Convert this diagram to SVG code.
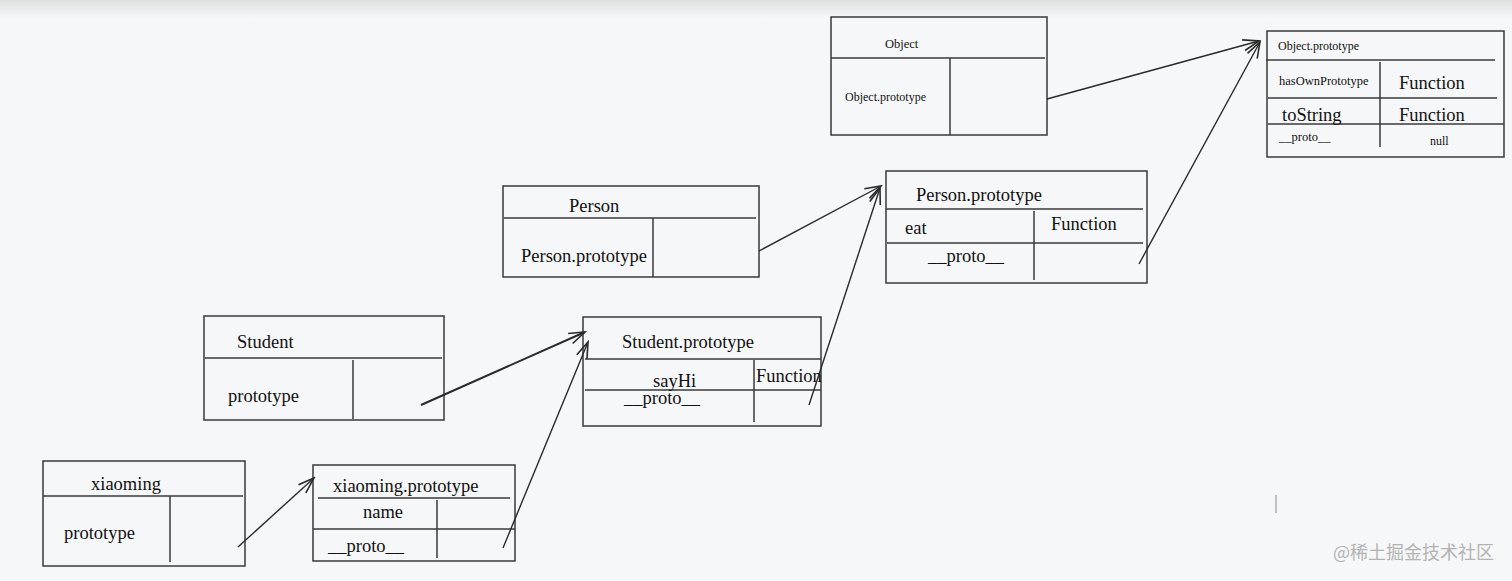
<svg xmlns="http://www.w3.org/2000/svg" width="1512" height="581" viewBox="0 0 1512 581">
<defs>
<linearGradient id="topshade" x1="0" y1="0" x2="0" y2="1">
<stop offset="0" stop-color="#dfe0e0"/>
<stop offset="1" stop-color="#f6f7f8"/>
</linearGradient>
<marker id="arrow" viewBox="-18 -8 20 16" refX="0" refY="0" markerWidth="20" markerHeight="16" markerUnits="userSpaceOnUse" orient="auto">
<path d="M-16,-5.5 L0,0 L-16,5.5" fill="none" stroke="#2a2a2a" stroke-width="1.6"/>
</marker>
</defs>
<style>
.box{fill:none;stroke:#3a3a3a;stroke-width:1.5}
.ln{stroke:#3a3a3a;stroke-width:1.5;fill:none}
.t{font-family:"Liberation Serif","Times New Roman",serif;fill:#111;font-size:18.5px}
.s{font-family:"Liberation Serif","Times New Roman",serif;fill:#111;font-size:12.5px}
.conn line{stroke:#2a2a2a;stroke-width:1.4;marker-end:url(#arrow)}
</style>
<rect x="0" y="0" width="1512" height="581" fill="#f6f7f8"/>
<rect x="0" y="0" width="1512" height="18" fill="url(#topshade)"/>

<g id="node-object">
<rect class="box" x="831" y="17" width="216" height="118"/>
<line class="ln" x1="831" y1="58" x2="1045" y2="58"/>
<line class="ln" x1="950" y1="58" x2="950" y2="135"/>
<text class="s" x="885" y="48">Object</text>
<text class="s" x="845" y="101" style="font-size:12px">Object.prototype</text>
</g>

<g id="node-object-prototype">
<rect class="box" x="1267" y="31" width="237" height="126"/>
<line class="ln" x1="1266" y1="60" x2="1495" y2="60"/>
<line class="ln" x1="1380" y1="62" x2="1380" y2="147"/>
<line class="ln" x1="1268" y1="98" x2="1497" y2="98"/>
<line class="ln" x1="1268" y1="124" x2="1504" y2="124"/>
<text class="s" x="1278" y="50" style="font-size:12px">Object.prototype</text>
<text class="s" x="1279" y="85">hasOwnPrototype</text>
<text class="t" x="1399" y="89">Function</text>
<text class="t" x="1282" y="121">toString</text>
<text class="t" x="1399" y="121">Function</text>
<text class="s" x="1279" y="141">__proto__</text>
<text class="s" x="1430" y="145" style="font-size:12px">null</text>
</g>

<g id="node-person">
<rect class="box" x="503" y="186" width="256" height="91"/>
<line class="ln" x1="504" y1="218" x2="756" y2="218"/>
<line class="ln" x1="653" y1="218" x2="653" y2="277"/>
<text class="t" x="569" y="212">Person</text>
<text class="t" x="521" y="262">Person.prototype</text>
</g>

<g id="node-person-prototype">
<rect class="box" x="886" y="171" width="261" height="112"/>
<line class="ln" x1="886" y1="209" x2="1143" y2="209"/>
<line class="ln" x1="1034" y1="211" x2="1034" y2="280"/>
<line class="ln" x1="887" y1="243" x2="1143" y2="243"/>
<text class="t" x="916" y="201">Person.prototype</text>
<text class="t" x="905" y="234">eat</text>
<text class="t" x="1051" y="230">Function</text>
<text class="t" x="928" y="262">__proto__</text>
</g>

<g id="node-student">
<rect class="box" x="204" y="316" width="240" height="104"/>
<line class="ln" x1="205" y1="358" x2="442" y2="358"/>
<line class="ln" x1="353" y1="360" x2="353" y2="419"/>
<text class="t" x="237" y="348">Student</text>
<text class="t" x="228" y="402">prototype</text>
</g>

<g id="node-student-prototype">
<rect class="box" x="583" y="317" width="238" height="109"/>
<line class="ln" x1="585" y1="359" x2="821" y2="359"/>
<line class="ln" x1="754" y1="360" x2="754" y2="422"/>
<line class="ln" x1="585" y1="390" x2="821" y2="390"/>
<text class="t" x="622" y="348">Student.prototype</text>
<text class="t" x="653" y="387">sayHi</text>
<text class="t" x="756" y="382">Function</text>
<text class="t" x="624" y="404">__proto__</text>
</g>

<g id="node-xiaoming">
<rect class="box" x="43" y="461" width="202" height="105"/>
<line class="ln" x1="43" y1="496" x2="243" y2="496"/>
<line class="ln" x1="170" y1="496" x2="170" y2="562"/>
<text class="t" x="91" y="490">xiaoming</text>
<text class="t" x="64" y="539">prototype</text>
</g>

<g id="node-xiaoming-prototype">
<rect class="box" x="313" y="465" width="202" height="96"/>
<line class="ln" x1="318" y1="498" x2="510" y2="498"/>
<line class="ln" x1="437" y1="500" x2="437" y2="558"/>
<line class="ln" x1="313" y1="529" x2="515" y2="529"/>
<text class="t" x="333" y="492">xiaoming.prototype</text>
<text class="t" x="363" y="518">name</text>
<text class="t" x="328" y="552">__proto__</text>
</g>

<g id="connectors" class="conn">
<line x1="238" y1="547" x2="314" y2="478"/>
<line x1="503" y1="548" x2="588" y2="342"/>
<line x1="421" y1="405" x2="585" y2="332" style="stroke-width:2"/>
<line x1="809" y1="405" x2="880" y2="188"/>
<line x1="759" y1="251" x2="881" y2="186"/>
<line x1="1139" y1="264" x2="1260" y2="42"/>
<line x1="1047" y1="99" x2="1259" y2="41"/>
</g>

<line x1="1276" y1="495" x2="1276" y2="513" stroke="#b0b0b0" stroke-width="1.5"/>
<text x="1333" y="559" font-family="'Noto Sans CJK SC','Noto Sans',sans-serif" font-size="18" fill="#b3b3b3">@稀土掘金技术社区</text>
</svg>
